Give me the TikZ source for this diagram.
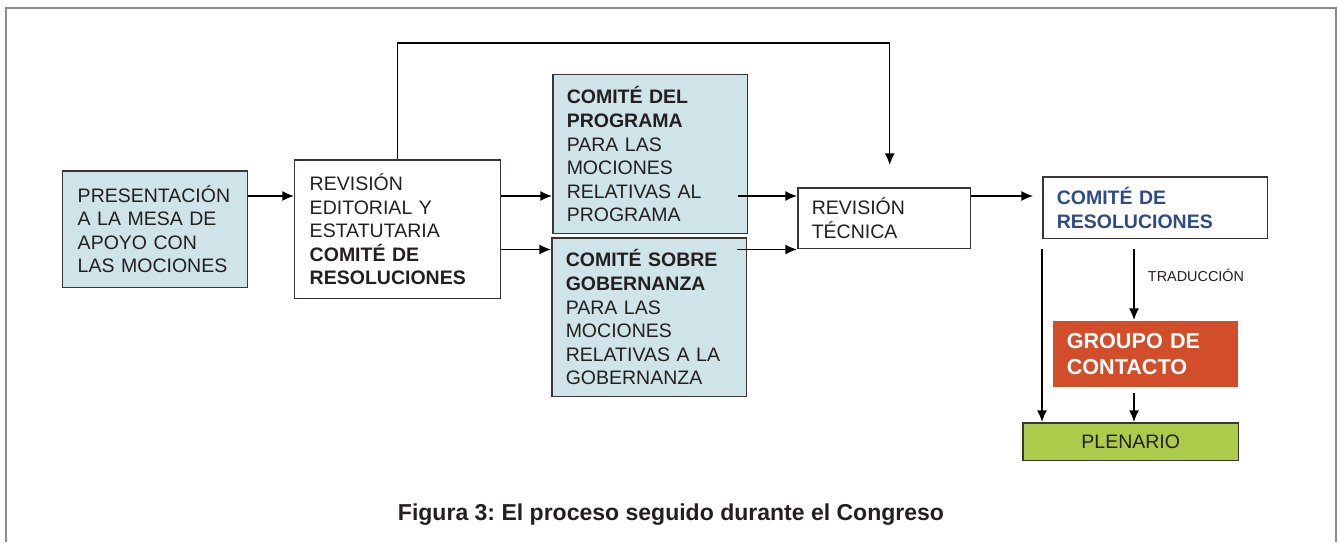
\documentclass[tikz,border=0pt]{standalone}
\usepackage{fontspec}
\setmainfont{Liberation Sans}
\usetikzlibrary{arrows.meta, positioning}
\definecolor{boxblue}{RGB}{206, 228, 232}
\definecolor{resblue}{RGB}{47, 75, 135}
\definecolor{grupored}{RGB}{210, 78, 43}
\definecolor{plengreen}{RGB}{173, 203, 74}
\definecolor{textdark}{RGB}{35, 31, 32}
\definecolor{framegray}{RGB}{140, 140, 140}
\frenchspacing

\tikzset{
  box/.style={draw=textdark!90, line width=0.85pt, anchor=north west, align=left,
    inner xsep=0.3cm, inner ysep=0pt, text=textdark,
    font=\fontsize{11.1}{13.4}\selectfont},
  flow/.style={->, line width=0.7pt, draw=black},
  >={Latex[length=6.6pt,width=5.6pt]}
}

\begin{document}
\begin{tikzpicture}[x=0.02cm, y=-0.02cm]
        \useasboundingbox (0,0) rectangle (1338,542);
        \draw[framegray, line width=0.85pt] (6,542) -- (6,8) -- (1336,8) -- (1336,542);

        \node[box, fill=boxblue, text width=3.1cm, minimum height=2.34cm] (pres) at (62,170) {PRESENTACIÓN\\A LA MESA DE\\APOYO CON\\LAS MOCIONES};
        \node[box, fill=white, text width=3.52cm, minimum height=2.78cm] (rev) at (294,159) {REVISIÓN\\EDITORIAL Y\\ESTATUTARIA\\\textbf{COMITÉ DE}\\\textbf{RESOLUCIONES}};
        \node[box, fill=boxblue, inner xsep=0.28cm, text width=3.34cm, minimum height=3.18cm] (prog) at (552,74) {\textbf{COMITÉ DEL}\\\textbf{PROGRAMA}\\PARA LAS\\MOCIONES\\RELATIVAS AL\\PROGRAMA};
        \node[box, fill=boxblue, inner xsep=0.28cm, text width=3.34cm, minimum height=3.18cm] (gob) at (551,237) {\textbf{COMITÉ SOBRE}\\\textbf{GOBERNANZA}\\PARA LAS\\MOCIONES\\RELATIVAS A LA\\GOBERNANZA};
        \node[box, fill=white, inner xsep=0.28cm, text width=2.9cm, minimum height=1.22cm] (tec) at (797,187) {REVISIÓN\\TÉCNICA};
        \node[box, fill=white, inner xsep=0.28cm, text width=3.94cm, minimum height=1.24cm, text=resblue] (res) at (1042,176) {\textbf{COMITÉ DE}\\\textbf{RESOLUCIONES}};
        \node[box, draw=none, fill=grupored, inner xsep=0.28cm, text width=3.14cm, minimum height=1.32cm, text=white, font=\fontsize{12.3}{14.6}\selectfont] (grupo) at (1052,320) {\textbf{GROUPO DE}\\\textbf{CONTACTO}};
        \node[box, fill=plengreen, align=center, text width=3.72cm, minimum height=0.76cm] (plen) at (1022,422) {PLENARIO};
        \node[text=textdark, font=\fontsize{8.2}{9}\selectfont] (trad) at (1196,275) {TRADUCCIÓN};
        \node[text=textdark, font=\bfseries\fontsize{13.1}{15}\selectfont] (cap) at (671,515) {Figura 3: El proceso seguido durante el Congreso};

        \coordinate (row) at (0,196);
        \coordinate (col) at (1134,0);
        \coordinate (top) at ([xshift=0.11cm, yshift=2.88cm]tec.north);

        \draw[flow] (pres.east |- row) -- (rev.west |- row);
        \draw[flow] (rev.east |- row) -- (prog.west |- row);
        \draw[flow] (rev.east |- tec.south) -- (gob.west |- tec.south);
        \draw[flow] ([xshift=-0.2cm]prog.east |- row) -- (tec.west |- row);
        \draw[flow] ([xshift=-0.2cm]gob.east |- tec.south) -- (tec.south west);
        \draw[flow] (rev.north) |- (top) -- ([xshift=0.11cm, yshift=0.44cm]tec.north);
        \draw[flow] (tec.east |- row) -- ([xshift=-0.18cm]res.west |- row);
        \draw[flow] ([yshift=-0.2cm]res.south -| col) -- (grupo.north -| col);
        \draw[flow] ([yshift=-0.12cm]grupo.south -| col) -- (plen.north -| col);
        \draw[flow] ([yshift=-0.2cm]res.south west) -- (plen.north -| res.west);
    \end{tikzpicture}
\end{document}
